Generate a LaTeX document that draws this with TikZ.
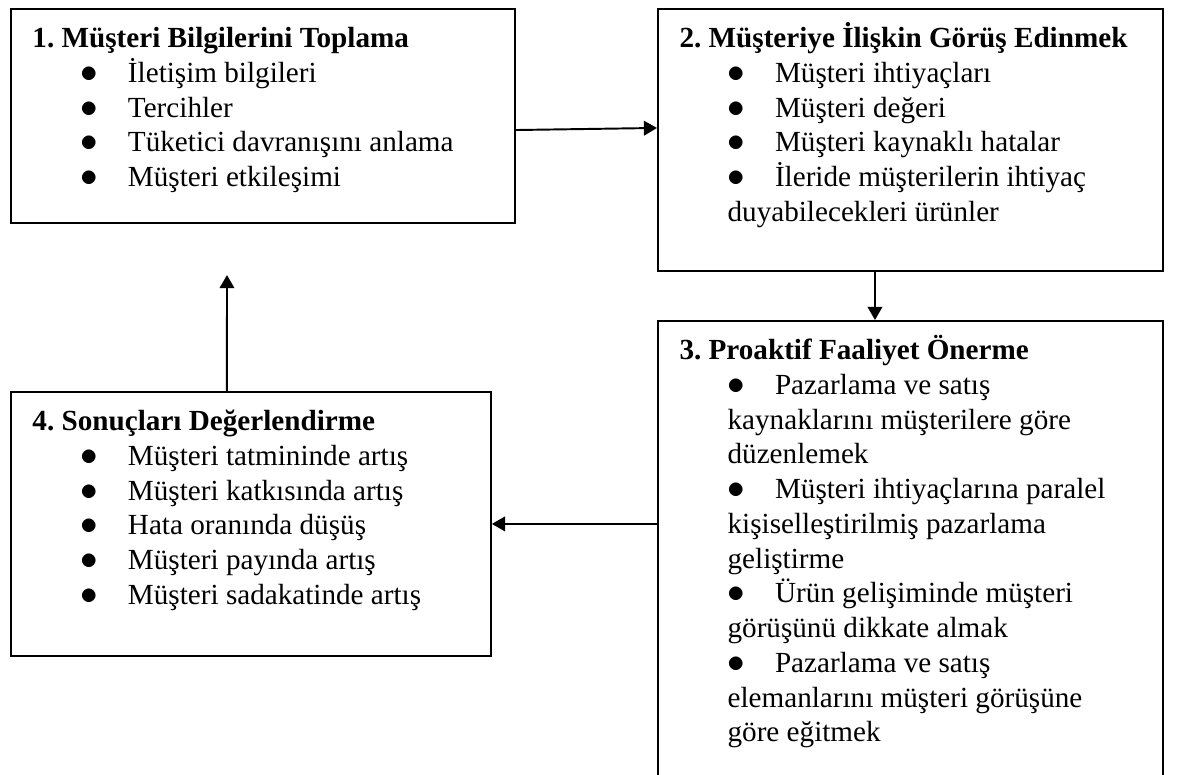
\documentclass[tikz,border=0pt]{standalone}
\usepackage{fontspec}
\setmainfont{Liberation Serif}
\usepackage{tikz}
\usetikzlibrary{arrows.meta,positioning,calc}
\frenchspacing
\newcommand{\stepitem}[1]{\hspace*{19.6pt}\makebox[19.7pt][l]{\fontsize{14}{14}\selectfont$\bullet$}#1}
\newcommand{\stepcont}[1]{\hspace*{19.8pt}#1}
\tikzset{
  stepbox/.style={draw,line width=0.8pt,anchor=north west,inner sep=0pt},
  steptext/.style={
    anchor=north west,inner sep=0pt,align=left,
    font=\fontsize{12}{14.3}\selectfont
  },
  steparrow/.style={-{Triangle[length=5.4pt,width=6pt]},line width=0.8pt}
}

\begin{document}
\begin{tikzpicture}[x=0.4115pt,y=-0.4115pt]
  \useasboundingbox (0,0) rectangle (1186,774);
  \node[stepbox,minimum width=207.4pt,minimum height=88.1pt] (toplama) at (10,8) {};
  \node[stepbox,minimum width=207.8pt,minimum height=107.8pt] (gorus) at (657,8) {};
  \node[stepbox,minimum width=207.8pt,minimum height=197.5pt] (proaktif) at (657,320) {};
  \node[stepbox,minimum width=197.5pt,minimum height=108.6pt] (sonuc) at (10,391) {};
  \node[steptext] (toplamatext) at ($(toplama.north west)+(22,10)$) {
    \rule{0pt}{12pt}\textbf{1. Müşteri Bilgilerini Toplama}\\
    \stepitem{İletişim bilgileri}\\
    \stepitem{Tercihler}\\
    \stepitem{Tüketici davranışını anlama}\\
    \stepitem{Müşteri etkileşimi}
  };
  \node[steptext] (gorustext) at ($(gorus.north west)+(22,10)$) {
    \rule{0pt}{12pt}\textbf{2. Müşteriye İlişkin Görüş Edinmek}\\
    \stepitem{Müşteri ihtiyaçları}\\
    \stepitem{Müşteri değeri}\\
    \stepitem{Müşteri kaynaklı hatalar}\\
    \stepitem{İleride müşterilerin ihtiyaç}\\
    \stepcont{duyabilecekleri ürünler}
  };
  \node[steptext] (proaktiftext) at ($(proaktif.north west)+(22,10)$) {
    \rule{0pt}{12pt}\textbf{3. Proaktif Faaliyet Önerme}\\
    \stepitem{Pazarlama ve satış}\\
    \stepcont{kaynaklarını müşterilere göre}\\
    \stepcont{düzenlemek}\\
    \stepitem{Müşteri ihtiyaçlarına paralel}\\
    \stepcont{kişiselleştirilmiş pazarlama}\\
    \stepcont{geliştirme}\\
    \stepitem{Ürün gelişiminde müşteri}\\
    \stepcont{görüşünü dikkate almak}\\
    \stepitem{Pazarlama ve satış}\\
    \stepcont{elemanlarını müşteri görüşüne}\\
    \stepcont{göre eğitmek}
  };
  \node[steptext] (sonuctext) at ($(sonuc.north west)+(22,10)$) {
    \rule{0pt}{12pt}\textbf{4. Sonuçları Değerlendirme}\\
    \stepitem{Müşteri tatmininde artış}\\
    \stepitem{Müşteri katkısında artış}\\
    \stepitem{Hata oranında düşüş}\\
    \stepitem{Müşteri payında artış}\\
    \stepitem{Müşteri sadakatinde artış}
  };
  \coordinate (donus) at ($(toplama.south)+(-36,51)$);
  \draw[steparrow] ($(toplama.east)+(0,14)$) -- ($(gorus.west)+(0,-12)$);
  \draw[steparrow] ($(gorus.south)+(-35.5,0)$) -- ($(proaktif.north)+(-35.5,0)$);
  \draw[steparrow] (proaktif.west |- sonuc.east) -- (sonuc.east);
  \draw[steparrow] ($(sonuc.north)+(-24,0)$) -- (donus);
\end{tikzpicture}
\end{document}
